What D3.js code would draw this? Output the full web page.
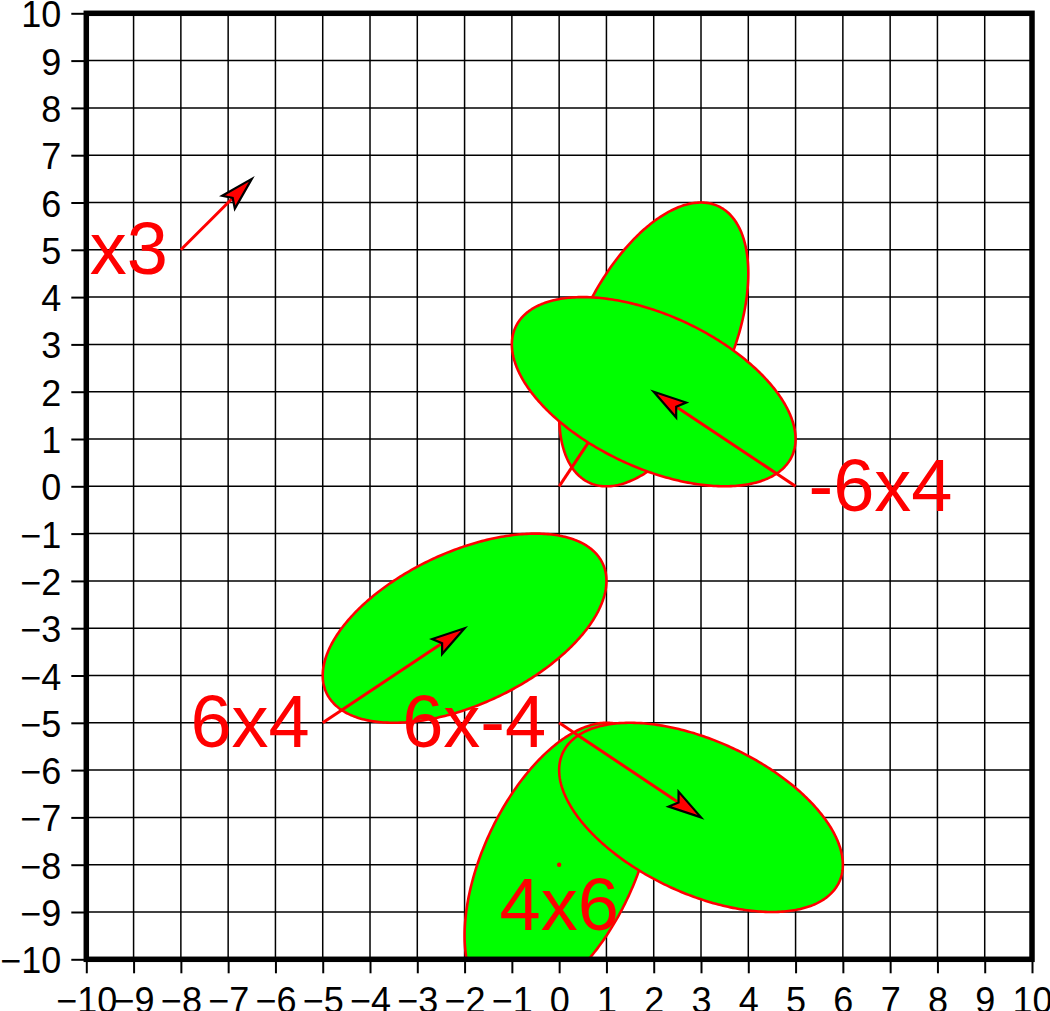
<!DOCTYPE html>
<html>
<head>
<meta charset="utf-8">
<script src="https://cdn.jsdelivr.net/npm/d3@7/dist/d3.min.js"></script>
<style>
  html, body { margin: 0; padding: 0; background: #fff; }
  svg { display: block; }
  text { font-family: "Liberation Sans", Arial, Helvetica, sans-serif; }
</style>
</head>
<body>
<div id="chart"></div>
<script>
// ---- data (in plot units) ----
const startX = [-8, 0, 5, -5, 0, 0];
const startY = [5, 0, 0, -5, -8, -5];
const velX   = [1.5, 2, -3, 3, 0, 3];
const velY   = [1.5, 3, 2, 2, 0, -2];
const sigX   = [0, 2, 3, 3, 2, 3];
const sigY   = [0, 3, 2, 2, 3, 2];
const corr   = [0, 0.5, -0.5, 0.5, 0.5, -0.5];
const labels = ["x3", "", "-6x4", "6x4", "4x6", "6x-4"];
const tickValues = d3.range(-10, 11);

const W = 1050, H = 1011;
const svg = d3.select("#chart").append("svg").attr("width", W).attr("height", H);

const x = d3.scaleLinear().domain([-10, 10]).range([86.3, 1032]);
const y = d3.scaleLinear().domain([-10, 10]).range([959.3, 13.3]);

const RED = "#ff0000", GREEN = "#00ff00";

svg.append("defs").append("clipPath").attr("id", "plotclip")
  .append("rect")
  .attr("x", x(-10)).attr("y", y(10))
  .attr("width", x(10) - x(-10)).attr("height", y(-10) - y(10));

// grid
const grid = svg.append("g");
grid.selectAll("line.vx").data(tickValues).enter().append("line")
  .attr("x1", d => x(d)).attr("x2", d => x(d))
  .attr("y1", y(-10)).attr("y2", y(10))
  .attr("stroke", "#000").attr("stroke-width", 1.5);
grid.selectAll("line.hy").data(tickValues).enter().append("line")
  .attr("y1", d => y(d)).attr("y2", d => y(d))
  .attr("x1", x(-10)).attr("x2", x(10))
  .attr("stroke", "#000").attr("stroke-width", 1.5);

// records
const recs = startX.map((sx, i) => ({
  sx, sy: startY[i], vx: velX[i], vy: velY[i],
  ex: sigX[i], ey: sigY[i], r: corr[i], label: labels[i]
}));

const plot = svg.append("g").attr("clip-path", "url(#plotclip)");
const ts = d3.range(0, 2 * Math.PI, Math.PI / 180);
const ellLine = d3.line().curve(d3.curveLinearClosed);

recs.forEach(d => {
  const cx = d.sx + d.vx, cy = d.sy + d.vy;
  if (d.ex > 0 && d.ey > 0) {
    const k = Math.sqrt(1 - d.r * d.r);
    const pts = ts.map(t => [
      x(cx + d.ex * Math.cos(t)),
      y(cy + d.ey * (d.r * Math.cos(t) + k * Math.sin(t)))
    ]);
    plot.append("path").attr("d", ellLine(pts))
      .attr("fill", GREEN).attr("stroke", RED).attr("stroke-width", 2.6);
  }
  const x0 = x(d.sx), y0 = y(d.sy), x1 = x(cx), y1 = y(cy);
  const len = Math.hypot(x1 - x0, y1 - y0);
  if (len < 1e-6) {
    plot.append("circle").attr("cx", x0).attr("cy", y0).attr("r", 2.2).attr("fill", RED);
    return;
  }
  const ux = (x1 - x0) / len, uy = (y1 - y0) / len;
  const px = -uy, py = ux;
  const HL = 33, HW = 9, NL = 27;
  plot.append("line")
    .attr("x1", x0).attr("y1", y0)
    .attr("x2", x1 - ux * NL).attr("y2", y1 - uy * NL)
    .attr("stroke", RED).attr("stroke-width", 3);
  const head = [
    [x1, y1],
    [x1 - ux * HL + px * HW, y1 - uy * HL + py * HW],
    [x1 - ux * NL, y1 - uy * NL],
    [x1 - ux * HL - px * HW, y1 - uy * HL - py * HW]
  ];
  plot.append("path").attr("d", "M" + head.map(p => p.join(",")).join("L") + "Z")
    .attr("fill", RED).attr("stroke", "#000").attr("stroke-width", 2.2)
    .attr("stroke-linejoin", "miter");
});

// axes
const fmt = d3.format("d");
const yAxis = d3.axisLeft(y).tickValues(tickValues).tickSize(15).tickPadding(10).tickFormat(fmt);
const xAxis = d3.axisBottom(x).tickValues(tickValues).tickSize(14).tickPadding(14).tickFormat(fmt);

const gy = svg.append("g").attr("transform", `translate(${x(-10)},0)`).call(yAxis);
const gx = svg.append("g").attr("transform", `translate(0,${y(-10)})`).call(xAxis);
[gy, gx].forEach(g => {
  g.select(".domain").remove();
  g.selectAll(".tick line").attr("stroke", "#000").attr("stroke-width", 2);
  g.selectAll(".tick text").attr("fill", "#000")
    .style("font-size", "36px")
    .style("font-family", '"Liberation Sans", Arial, Helvetica, sans-serif');
});
gy.selectAll(".tick text").attr("dy", "0.375em");

// frame
svg.append("rect")
  .attr("x", x(-10)).attr("y", y(10))
  .attr("width", x(10) - x(-10)).attr("height", y(-10) - y(10))
  .attr("fill", "none").attr("stroke", "#000").attr("stroke-width", 5.5);

// labels
const lab = svg.append("g");
recs.forEach(d => {
  if (!d.label) return;
  let anchor, dx, dy;
  if (d.vx > 0) { anchor = "end"; dx = -13; dy = 24; }
  else if (d.vx < 0) { anchor = "start"; dx = 13; dy = 25; }
  else { anchor = "middle"; dx = 0; dy = 65; }
  lab.append("text")
    .attr("x", x(d.sx) + dx).attr("y", y(d.sy) + dy)
    .attr("text-anchor", anchor)
    .attr("fill", RED)
    .style("font-size", "74px")
    .text(d.label);
});
</script>
</body>
</html>
